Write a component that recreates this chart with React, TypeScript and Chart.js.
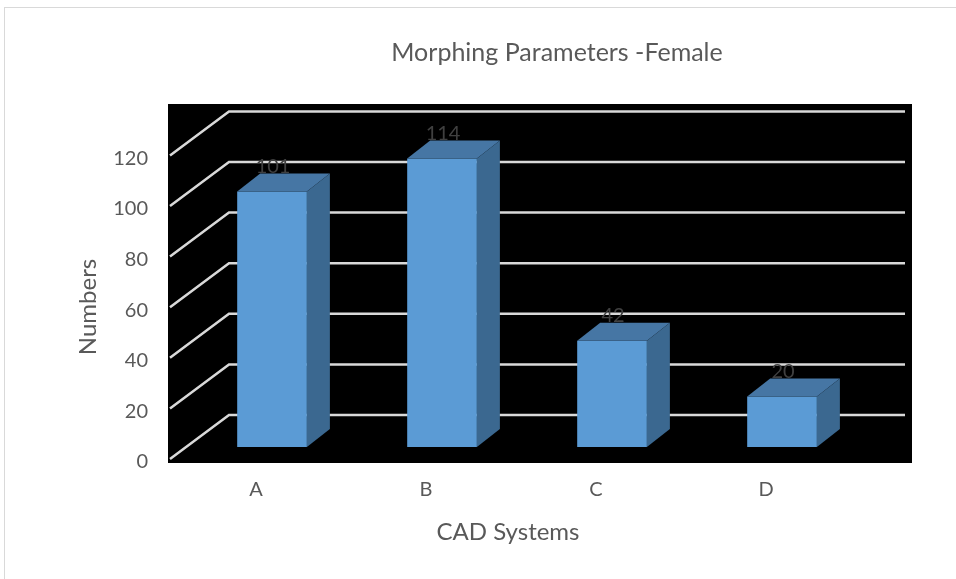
import { useEffect, useRef } from 'react';
import { Chart, registerables } from 'chart.js';

Chart.register(...registerables);

const categories = ['A', 'B', 'C', 'D'];
const values = [101, 114, 42, 20];
const yTicks = [0, 20, 40, 60, 80, 100, 120];
const chartTitle = 'Morphing Parameters -Female';
const xTitle = 'CAD Systems';
const yTitle = 'Numbers';

const FONT = "Lato, 'Open Sans', sans-serif";
const TEXT = '#595959';
const BAR_FRONT = '#5B9BD5';
const BAR_TOP = '#4676A4';
const BAR_SIDE = '#3B6890';
const GRID = '#D9D9D9';

const BAR_DX = 23;
const BAR_DY = -18;
const WALL_DX = 59;
const WALL_DY = -44;

const threeD = {
  id: 'threeD',
  beforeDraw(chart: any) {
    const { ctx, chartArea } = chart;
    ctx.save();
    ctx.fillStyle = '#ffffff';
    ctx.fillRect(0, 0, chart.width, chart.height);
    ctx.strokeStyle = '#D9D9D9';
    ctx.lineWidth = 1;
    ctx.strokeRect(4.5, 7.5, chart.width + 10, chart.height + 10);
    const top = chartArea.top - 47;
    ctx.fillStyle = '#000000';
    ctx.fillRect(chartArea.left, top, chartArea.right + 64 - chartArea.left, chartArea.bottom - top);
    ctx.restore();
  },
  beforeDatasetsDraw(chart: any) {
    const { ctx, chartArea } = chart;
    const y = chart.scales.y;
    ctx.save();
    ctx.strokeStyle = GRID;
    ctx.lineWidth = 2.5;
    yTicks.forEach((v) => {
      const py = y.getPixelForValue(v);
      const fx = chartArea.left + 2;
      const fy = py + 12;
      ctx.beginPath();
      ctx.moveTo(fx, fy);
      ctx.lineTo(fx + WALL_DX, fy + WALL_DY);
      ctx.lineTo(chartArea.right + 57, fy + WALL_DY);
      ctx.stroke();
    });
    ctx.restore();
  },
  afterDatasetsDraw(chart: any) {
    const { ctx } = chart;
    const meta = chart.getDatasetMeta(0);
    ctx.save();
    meta.data.forEach((el: any, i: number) => {
      const L = el.x - el.width / 2;
      const R = el.x + el.width / 2;
      const T = el.y;
      const B = el.base;
      ctx.fillStyle = BAR_TOP;
      ctx.beginPath();
      ctx.moveTo(L, T);
      ctx.lineTo(L + BAR_DX, T + BAR_DY);
      ctx.lineTo(R + BAR_DX, T + BAR_DY);
      ctx.lineTo(R, T);
      ctx.closePath();
      ctx.fill();
      ctx.fillStyle = BAR_SIDE;
      ctx.beginPath();
      ctx.moveTo(R, T);
      ctx.lineTo(R + BAR_DX, T + BAR_DY);
      ctx.lineTo(R + BAR_DX, B + BAR_DY);
      ctx.lineTo(R, B);
      ctx.closePath();
      ctx.fill();
      ctx.fillStyle = '#404040';
      ctx.font = `20px ${FONT}`;
      ctx.textAlign = 'center';
      ctx.textBaseline = 'middle';
      ctx.fillText(String(values[i]), el.x + 1, T - 25);
    });
    ctx.restore();
  },
  afterDraw(chart: any) {
    const { ctx } = chart;
    ctx.save();
    ctx.fillStyle = TEXT;
    ctx.font = `25px ${FONT}`;
    ctx.textAlign = 'center';
    ctx.textBaseline = 'middle';
    ctx.fillText(chartTitle, 557, 53);
    ctx.restore();
  },
};

export default function App() {
  const ref = useRef<HTMLCanvasElement | null>(null);
  useEffect(() => {
    if (!ref.current) return;
    const chart = new Chart(ref.current, {
      type: 'bar',
      data: {
        datasets: [
          {
            label: 'Numbers',
            data: values.map((v, i) => ({ x: i, y: v })),
            backgroundColor: BAR_FRONT,
            borderWidth: 0,
            barPercentage: 0.41,
            categoryPercentage: 1,
            clip: false,
          },
        ],
      },
      options: {
        animation: false,
        responsive: false,
        devicePixelRatio: 1,
        layout: { padding: { top: 151, right: 108, left: 0, bottom: 0 } },
        plugins: {
          legend: { display: false },
          title: { display: false },
          tooltip: { enabled: false },
        },
        scales: {
          x: {
            type: 'linear',
            offset: false,
            min: -0.612,
            max: 3.388,
            afterBuildTicks: (s: any) => {
              s.ticks = categories.map((_, i) => ({ value: i }));
            },
            afterFit: (s: any) => {
              s.height = 116;
            },
            grid: { display: false, drawTicks: false },
            border: { display: false },
            ticks: {
              autoSkip: false,
              maxRotation: 0,
              callback: (_v: any, i: number) => categories[i],
              labelOffset: -16,
              padding: 15,
              color: TEXT,
              font: { family: FONT, size: 20 },
            },
            title: {
              display: true,
              text: xTitle,
              color: TEXT,
              font: { family: FONT, size: 24 },
              padding: { top: 0, bottom: 32.6 },
            },
          },
          y: {
            type: 'linear',
            min: -6.32,
            max: 117.0,
            afterBuildTicks: (s: any) => {
              s.ticks = yTicks.map((v) => ({ value: v }));
            },
            afterFit: (s: any) => {
              s.width = 168;
            },
            grid: { display: false, drawTicks: false },
            border: { display: false },
            ticks: {
              padding: 20,
              labelOffset: 15,
              color: TEXT,
              font: { family: FONT, size: 20 },
            },
            title: {
              display: true,
              text: yTitle,
              color: TEXT,
              font: { family: FONT, size: 24 },
              padding: { top: 73.6, bottom: 0 },
            },
          },
        },
      },
      plugins: [threeD],
    } as any);
    return () => chart.destroy();
  }, []);
  return (
    <div style={{ position: 'absolute', left: 0, top: 0, width: 956, height: 579 }}>
      <canvas ref={ref} width={956} height={579} style={{ display: 'block' }} />
    </div>
  );
}
